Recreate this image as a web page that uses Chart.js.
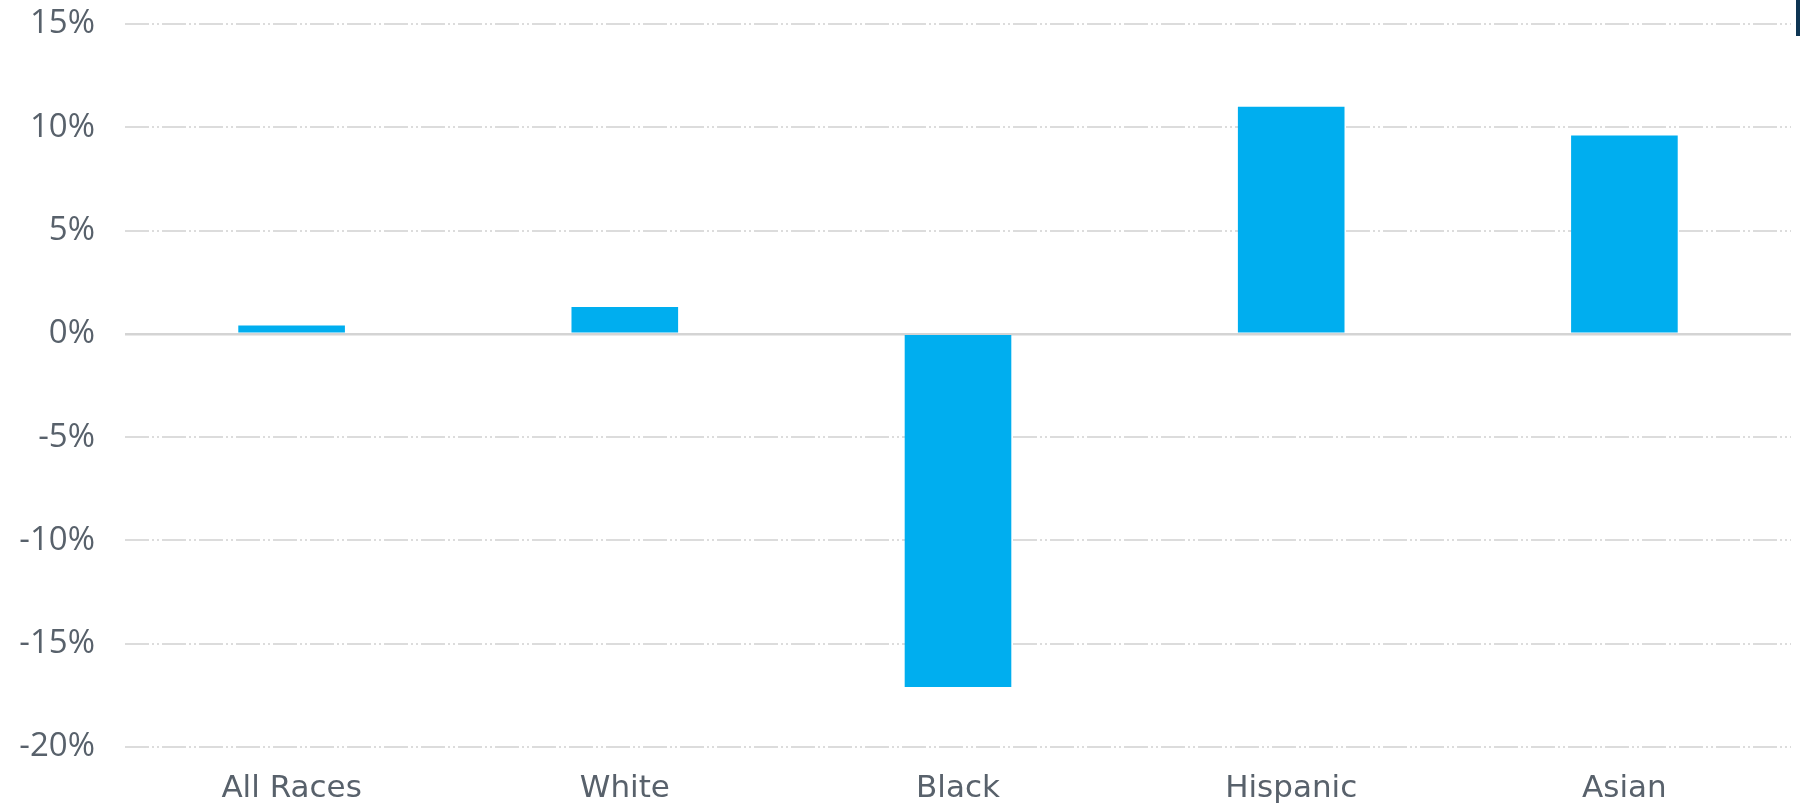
<!DOCTYPE html>
<html>
<head>
<meta charset="utf-8">
<script src="https://cdn.jsdelivr.net/npm/chart.js@4"></script>
<style>
  html, body { margin: 0; padding: 0; background: #ffffff; }
  #wrap { position: relative; width: 1800px; height: 806px; }
  #mark { position: absolute; right: 0; top: 0; width: 4px; height: 36px; background: #0e3553; }
</style>
</head>
<body>
<div id="wrap">
  <canvas id="c" width="1800" height="806"></canvas>
  <div id="mark"></div>
</div>
<script>
const categories = ["All Races", "White", "Black", "Hispanic", "Asian"];
const changeValues = [0.4, 1.3, -17.1, 11.0, 9.6];
const yTickValues = [15, 10, 5, 0, -5, -10, -15, -20];

const textColor = '#58616b';
const ctx = document.getElementById('c').getContext('2d');
new Chart(ctx, {
  type: 'bar',
  data: {
    labels: categories,
    datasets: [{
      data: changeValues,
      backgroundColor: '#00aeef',
      borderWidth: 0,
      barPercentage: 0.32,
      categoryPercentage: 1.0
    }]
  },
  options: {
    responsive: false,
    animation: false,
    layout: { padding: { top: 24, right: 9, left: 0, bottom: 0 } },
    plugins: { legend: { display: false }, tooltip: { enabled: false } },
    scales: {
      x: {
        grid: { display: false, drawTicks: false },
        border: { display: false },
        ticks: { color: textColor, font: { family: 'DejaVu Sans', size: 31 }, padding: 23, maxRotation: 0 },
        afterFit: (s) => { s.height = 59; }
      },
      y: {
        min: -20,
        max: 15,
        afterBuildTicks: (s) => { s.ticks = yTickValues.map(v => ({ value: v })); },
        grid: {
          drawTicks: false,
          color: (c) => c.tick && c.tick.value === 0 ? '#d4d4d4' : '#dcdcdc',
          lineWidth: (c) => c.tick && c.tick.value === 0 ? 2.5 : 2
        },
        border: {
          display: false,
          dash: (c) => c.tick && c.tick.value === 0 ? [] : [24, 3, 2, 3, 2, 3]
        },
        ticks: {
          color: textColor,
          font: { family: 'Open Sans', size: 33 },
          padding: 30,
          callback: (v) => v + '%'
        },
        afterFit: (s) => { s.width = 125; s.paddingTop = 0; s.paddingBottom = 0; }
      }
    }
  }
});
</script>
</body>
</html>
